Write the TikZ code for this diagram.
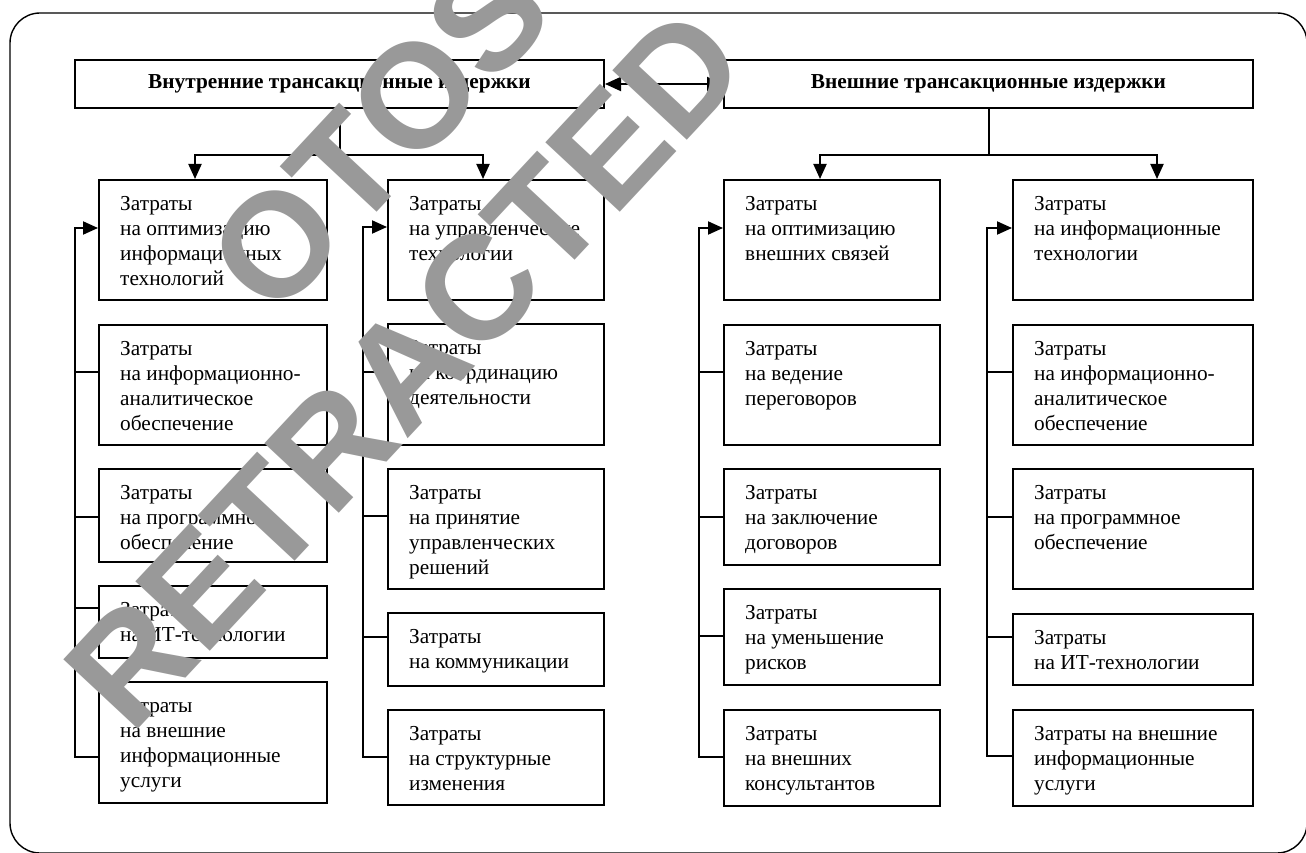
\documentclass[tikz,border=0pt]{standalone}
\usepackage{fontspec}
\setmainfont{Liberation Serif}
\newfontfamily\wmfont{Liberation Sans}
\usetikzlibrary{arrows.meta,calc}
\tikzset{
  box/.style={draw, line width=2pt, inner sep=0pt, anchor=north west},
  txt/.style={anchor=north west, inner sep=0pt, align=left, font=\fontsize{21.3}{25}\selectfont},
  hdr/.style={draw, line width=2pt, inner sep=0pt, anchor=north west, font=\bfseries\fontsize{21.3}{25}\selectfont},
  conn/.style={line width=2pt},
  tick/.style={line width=1.7pt},
  arr/.style={line width=2pt, -{Triangle[width=13pt,length=15pt]}},
  darr/.style={line width=2pt, {Triangle[width=14pt,length=16pt]}-{Triangle[width=14pt,length=16pt]}},
  outer/.style={line width=1.4pt, rounded corners=30pt},
  watermark/.style={text=black!40, inner sep=0pt, rotate=47, font=\wmfont\bfseries\fontsize{148}{150}\selectfont},
}
\newcommand\costbox[6]{%
  \node[box, minimum width={(#4-#2)*1pt}, minimum height={(#5-#3)*1pt}] (#1) at (#2,#3) {};
  \node[txt] (#1t) at ([xshift=22pt,yshift=-16.8pt]#1.north west) {#6};
}
\begin{document}
\begin{tikzpicture}[x=1pt,y=-1pt]
\useasboundingbox (0,0) rectangle (1306,853);
\draw[outer] (10,13) rectangle (1307,853);

% headers
\node[hdr, minimum width=529pt, minimum height=48pt] (H1) at (74,59) {Внутренние трансакционные издержки};
\node[hdr, minimum width=529pt, minimum height=48pt] (H2) at (723,59) {Внешние трансакционные издержки};
\draw[darr] (H1.east) -- (H2.west);

% column 1
\costbox{a1}{98}{179}{326}{299}{Затраты\\на оптимизацию\\информационных\\технологий}
\costbox{a2}{98}{324}{326}{444}{Затраты\\на информационно-\\аналитическое\\обеспечение}
\costbox{a3}{98}{468}{326}{561}{Затраты\\на программное\\обеспечение}
\costbox{a4}{98}{585}{326}{657}{Затраты\\на ИТ-технологии}
\costbox{a5}{98}{681}{326}{802}{Затраты\\на внешние\\информационные\\услуги}
% column 2
\costbox{b1}{387}{179}{603}{299}{Затраты\\на управленческие\\технологии}
\costbox{b2}{387}{323}{603}{444}{Затраты\\на координацию\\деятельности}
\costbox{b3}{387}{468}{603}{588}{Затраты\\на принятие\\управленческих\\решений}
\costbox{b4}{387}{612}{603}{685}{Затраты\\на коммуникации}
\costbox{b5}{387}{709}{603}{804}{Затраты\\на структурные\\изменения}
% column 3
\costbox{c1}{723}{179}{939}{299}{Затраты\\на оптимизацию\\внешних связей}
\costbox{c2}{723}{324}{939}{444}{Затраты\\на ведение\\переговоров}
\costbox{c3}{723}{468}{939}{564}{Затраты\\на заключение\\договоров}
\costbox{c4}{723}{588}{939}{684}{Затраты\\на уменьшение\\рисков}
\costbox{c5}{723}{709}{939}{805}{Затраты\\на внешних\\консультантов}
% column 4
\costbox{d1}{1012}{179}{1252}{299}{Затраты\\на информационные\\технологии}
\costbox{d2}{1012}{324}{1252}{444}{Затраты\\на информационно-\\аналитическое\\обеспечение}
\costbox{d3}{1012}{468}{1252}{588}{Затраты\\на программное\\обеспечение}
\costbox{d4}{1012}{613}{1252}{684}{Затраты\\на ИТ-технологии}
\costbox{d5}{1012}{709}{1252}{805}{Затраты на внешние\\информационные\\услуги}

% header trees
\coordinate (j1) at (H1.south |- 0,155);
\coordinate (j2) at (H2.south |- 0,155);
\draw[conn] (H1.south) -- (j1);
\draw[arr] (j1) -| (195,0 |- a1.north);
\draw[arr] (j1) -| (483,0 |- b1.north);
\draw[conn] (H2.south) -- (j2);
\draw[arr] (j2) -| (820,0 |- c1.north);
\draw[arr] (j2) -| (1157,0 |- d1.north);

% buses
\draw[arr] (75,757) -- (75,228) -- (a1.west |- 0,228);
\draw[tick] (75,372) -- (a2.west |- 0,372);
\draw[tick] (75,517) -- (a3.west |- 0,517);
\draw[tick] (75,608) -- (a4.west |- 0,608);
\draw[tick] (74,757) -- (a5.west |- 0,757);

\draw[arr] (363,757) -- (363,227) -- (b1.west |- 0,227);
\draw[tick] (363,372) -- (b2.west |- 0,372);
\draw[tick] (363,516) -- (b3.west |- 0,516);
\draw[tick] (363,637) -- (b4.west |- 0,637);
\draw[tick] (362,757) -- (b5.west |- 0,757);

\draw[arr] (699,757) -- (699,228) -- (c1.west |- 0,228);
\draw[tick] (699,372) -- (c2.west |- 0,372);
\draw[tick] (699,517) -- (c3.west |- 0,517);
\draw[tick] (699,636) -- (c4.west |- 0,636);
\draw[tick] (698,757) -- (c5.west |- 0,757);

\draw[arr] (987,756) -- (987,228) -- (d1.west |- 0,228);
\draw[tick] (987,372) -- (d2.west |- 0,372);
\draw[tick] (987,517) -- (d3.west |- 0,517);
\draw[tick] (987,637) -- (d4.west |- 0,637);
\draw[tick] (986,756) -- (d5.west |- 0,756);

% watermark stamp over the figure
\node[watermark] (wm1) at (405,368) {RETRACTED};
\node[watermark, anchor=base west] (wm2) at (274.7,321.5) {OTOS};
\end{tikzpicture}
\end{document}
